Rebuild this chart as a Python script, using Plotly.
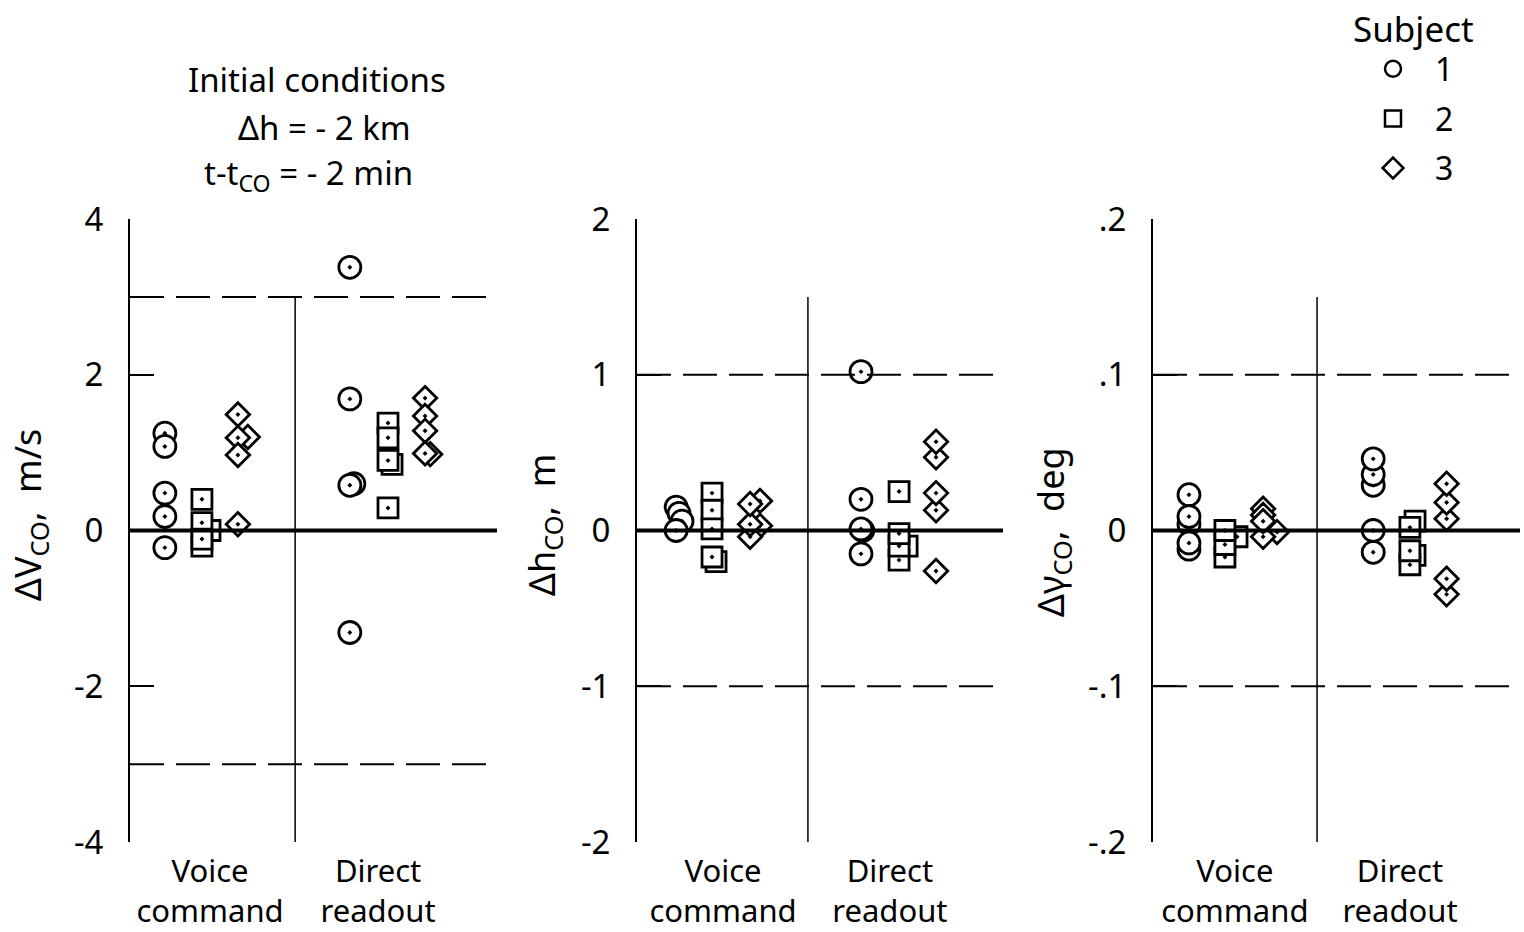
import plotly.graph_objects as go

FONT = "Noto Sans"

subjects = ["1", "2", "3"]
symbols = ["circle-dot", "square-dot", "diamond-dot"]
legend_symbols = ["circle", "square", "diamond"]
marker_sizes = [22, 20, 18]
conditions = ["Voice<br>command", "Direct<br>readout"]

# ---- Panel 1: delta V_CO, m/s  (one list per subject) ----
dv_voice = [[1.25, 1.08, 0.48, 0.18, -0.22],
            [0.0, 0.40, 0.10, -0.20, -0.11],
            [1.20, 1.49, 1.19, 0.97, 0.08]]
dv_voice_dx = [[0, 0, 0, 0, 0],
               [0.022, 0, 0, 0, 0],
               [0.027, 0, 0, 0, 0]]
dv_direct = [[3.38, 1.69, 0.60, 0.58, -1.31],
             [1.38, 1.19, 0.85, 0.90, 0.29],
             [1.70, 1.47, 1.28, 0.98, 0.99]]
dv_direct_dx = [[0, 0, 0.011, 0, 0],
                [0, 0, 0.011, 0, 0],
                [0, 0, 0, 0.014, 0]]

# ---- Panel 2: delta h_CO, m ----
dh_voice = [[0.15, 0.11, 0.06, 0.0],
            [-0.20, 0.24, 0.13, 0.01, -0.17],
            [0.19, 0.03, -0.04, 0.04, 0.17]]
dh_voice_dx = [[0, 0.008, 0.016, 0],
               [0.011, 0, 0, 0, 0],
               [0.027, 0.027, 0, 0, 0]]
dh_direct = [[1.02, 0.20, 0.0, 0.01, -0.15],
             [0.25, -0.10, -0.19, -0.10, -0.02],
             [0.47, 0.57, 0.13, 0.24, -0.26]]
dh_direct_dx = [[0, 0, 0.005, 0, 0],
                [0, 0.022, 0, 0, 0],
                [0, 0, 0, 0, 0]]

# ---- Panel 3: delta gamma_CO, deg ----
dg_voice = [[0.023, 0.004, 0.009, -0.012, -0.008],
            [-0.004, -0.017, -0.009, 0.0],
            [-0.001, -0.004, 0.014, 0.010, 0.006]]
dg_voice_dx = [[0, 0, 0, 0, 0],
               [0.033, 0, 0, 0],
               [0.038, 0, 0, 0, 0]]
dg_direct = [[0.029, 0.036, 0.046, -0.014, 0.0],
             [0.006, -0.016, -0.022, -0.013, 0.002],
             [0.0075, 0.018, 0.030, -0.041, -0.031]]
dg_direct_dx = [[0, 0, 0, 0, 0],
                [0.014, 0.014, 0, 0, 0],
                [0, 0, 0, 0, 0]]

# y-axis ticks
dv_ticks = [-4, -2, 0, 2, 4]
dv_ticktext = ["-4", "-2", "0", "2", "4"]
dh_ticks = [-2, -1, 0, 1, 2]
dh_ticktext = ["-2", "-1", "0", "1", "2"]
dg_ticks = [-0.2, -0.1, 0, 0.1, 0.2]
dg_ticktext = ["-.2", "-.1", "0", ".1", ".2"]

NB = "\u00a0"
panels = [
    dict(voice=dv_voice, voice_dx=dv_voice_dx, direct=dv_direct, direct_dx=dv_direct_dx,
         ticks=dv_ticks, ticktext=dv_ticktext, lim=3, divtop=3,
         title="ΔV<sub>CO</sub>," + NB * 2 + "m/s", title_x=29, title_y=515,
         px=(130, 497), gx_voice=[0.095, 0.196, 0.294], gx_direct=[0.599, 0.703, 0.804],
         div=0.45, cat=[0.218, 0.676]),
    dict(voice=dh_voice, voice_dx=dh_voice_dx, direct=dh_direct, direct_dx=dh_direct_dx,
         ticks=dh_ticks, ticktext=dh_ticktext, lim=1, divtop=1.5,
         title="Δh<sub>CO</sub>," + NB * 2 + "m", title_x=543, title_y=525,
         px=(637, 1003), gx_voice=[0.107, 0.205, 0.309], gx_direct=[0.612, 0.716, 0.817],
         div=0.467, cat=[0.235, 0.691]),
    dict(voice=dg_voice, voice_dx=dg_voice_dx, direct=dg_direct, direct_dx=dg_direct_dx,
         ticks=dg_ticks, ticktext=dg_ticktext, lim=0.1, divtop=0.15,
         title="Δγ<sub>CO</sub>," + NB * 2 + "deg", title_x=1052, title_y=532,
         px=(1153, 1520), gx_voice=[0.098, 0.196, 0.300], gx_direct=[0.600, 0.700, 0.800],
         div=0.447, cat=[0.223, 0.673]),
]

W, H = 1524, 932
fig = go.Figure()
shapes = []
annotations = []
layout = {}

for p_i, p in enumerate(panels):
    n = "" if p_i == 0 else str(p_i + 1)
    xa, ya = "x" + n, "y" + n
    for s_i in range(3):
        for key, gx in (("voice", p["gx_voice"]), ("direct", p["gx_direct"])):
            vals = p[key][s_i]
            dxs = p[key + "_dx"][s_i]
            xs = [gx[s_i] + d for d in dxs]
            fig.add_trace(go.Scatter(
                x=xs, y=vals, mode="markers", xaxis=xa, yaxis=ya, showlegend=False,
                marker=dict(symbol=symbols[s_i], size=marker_sizes[s_i], color="white",
                            line=dict(color="black", width=2.8)),
                hoverinfo="y"))
    top = max(p["ticks"])
    bot = min(p["ticks"])
    layout["xaxis" + n] = dict(domain=[p["px"][0] / W, p["px"][1] / W], range=[0, 1],
                               anchor=ya, showgrid=False, zeroline=False, showline=False,
                               automargin=False,
                               tickmode="array", tickvals=p["cat"], ticktext=conditions,
                               ticks="", ticklabelstandoff=8,
                               tickfont=dict(family=FONT, size=31, color="black"))
    layout["yaxis" + n] = dict(domain=[1 - 842 / H, 1 - 219 / H], range=[bot, top],
                               anchor=xa, showgrid=False, zeroline=False, automargin=False,
                               showline=True, linecolor="black", linewidth=2,
                               ticks="inside", ticklen=24, tickwidth=2, tickcolor="black",
                               tickmode="array", tickvals=p["ticks"], ticktext=p["ticktext"],
                               ticklabelstandoff=18,
                               tickfont=dict(family=FONT, size=33, color="black"))
    # zero line
    shapes.append(dict(type="line", xref=xa, yref=ya, x0=0, x1=1, y0=0, y1=0,
                       line=dict(color="black", width=4)))
    for s in (1, -1):
        shapes.append(dict(type="line", xref=xa, yref=ya, x0=0, x1=1,
                           y0=s * p["lim"], y1=s * p["lim"],
                           line=dict(color="black", width=2, dash="34px,12px")))
    shapes.append(dict(type="line", xref=xa, yref=ya, x0=p["div"], x1=p["div"],
                       y0=bot, y1=p["divtop"], line=dict(color="black", width=1.5)))
    annotations.append(dict(text=p["title"], xref="paper", yref="paper",
                            x=p["title_x"] / W, y=1 - p["title_y"] / H, textangle=-90,
                            showarrow=False, xanchor="center", yanchor="middle",
                            font=dict(family=FONT, size=36, color="black")))

# legend entries
for s_i in range(3):
    fig.add_trace(go.Scatter(
        x=[None], y=[None], mode="markers", name=subjects[s_i], showlegend=True,
        legendgroup=subjects[s_i],
        marker=dict(symbol=legend_symbols[s_i], size=16, color="white",
                    line=dict(color="black", width=2.5))))

# initial conditions text
for txt, cx, cy in (("Initial conditions", 317, 80),
                    ("Δh = - 2 km", 324, 127),
                    ("t-t<sub>CO</sub> = - 2 min", 308, 175)):
    annotations.append(dict(text=txt, xref="paper", yref="paper", x=cx / W, y=1 - cy / H,
                            showarrow=False, xanchor="center", yanchor="middle",
                            font=dict(family=FONT, size=33, color="black")))

fig.update_layout(
    width=W, height=H, margin=dict(l=0, r=0, t=0, b=0, autoexpand=False),
    paper_bgcolor="white", plot_bgcolor="white",
    shapes=shapes, annotations=annotations,
    showlegend=True,
    legend=dict(x=1351 / W, y=1 + 4 / H, xanchor="left", yanchor="top",
                title=dict(text="Subject", font=dict(family=FONT, size=35, color="black")),
                font=dict(family=FONT, size=32, color="black"),
                tracegroupgap=5, itemwidth=74, bgcolor="rgba(0,0,0,0)"),
    **layout,
)

fig.write_html("out.html", config={"displayModeBar": False},
               post_script="document.body.style.margin='0';document.body.style.overflow='hidden';")
